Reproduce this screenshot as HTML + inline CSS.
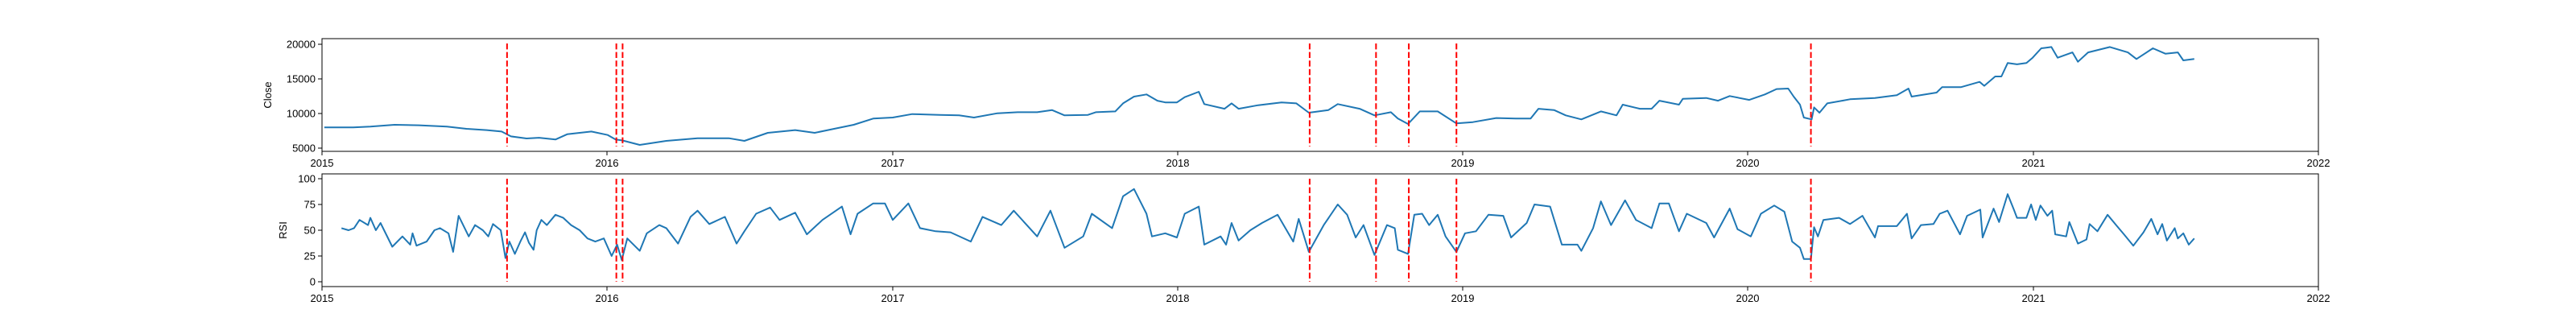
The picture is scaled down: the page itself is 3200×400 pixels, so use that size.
<!DOCTYPE html>
<html><head><meta charset="utf-8">
<style>
html,body{margin:0;padding:0;background:#fff;}
svg{display:block;font-family:"Liberation Sans","DejaVu Sans",sans-serif;}
</style></head>
<body>
<svg id="chart" width="3200" height="400" viewBox="0 0 3200 400" xmlns="http://www.w3.org/2000/svg"></svg>
<script>
// ---- data (days since 2015-01-01) ----
const closeDays = [3,40,62,93,124,160,185,211,230,242,262,278,299,314,345,366,376,385,407,441,481,521,541,571,606,631,656,681,706,731,756,791,816,835,865,891,916,935,951,981,991,1016,1026,1040,1056,1070,1080,1095,1105,1123,1130,1156,1165,1174,1199,1229,1248,1264,1289,1301,1329,1348,1369,1378,1391,1406,1429,1453,1474,1504,1529,1548,1558,1578,1593,1613,1638,1658,1666,1688,1703,1713,1738,1743,1773,1788,1803,1828,1848,1863,1878,1885,1893,1898,1908,1911,1918,1928,1947,1957,1989,2017,2032,2036,2068,2075,2099,2123,2129,2143,2151,2159,2171,2183,2191,2202,2215,2223,2242,2249,2262,2290,2313,2324,2345,2361,2377,2384,2398];
const closeValues = [7990,8000,8100,8370,8300,8100,7790,7600,7400,6700,6400,6500,6240,7000,7400,6900,6250,6100,5460,6050,6430,6430,6050,7210,7600,7210,7790,8370,9270,9420,9920,9800,9730,9420,10040,10190,10190,10500,9730,9800,10190,10300,11470,12440,12750,11850,11600,11600,12360,13140,11360,10690,11470,10690,11200,11600,11470,10120,10500,11360,10690,9730,10190,9270,8490,10300,10300,8570,8760,9350,9270,9270,10690,10500,9730,9150,10300,9730,11280,10690,10690,11850,11280,12130,12250,11850,12520,11970,12750,13530,13600,12440,11280,9420,9150,10880,10120,11470,11850,12060,12250,12640,13600,12440,13020,13800,13800,14570,14000,15350,15350,17290,17100,17290,18060,19420,19600,18060,18830,17480,18830,19600,18830,17870,19420,18640,18830,17680,17870];
const rsiDays = [25,34,41,48,59,62,69,75,90,103,113,116,121,134,144,151,162,168,175,188,196,206,213,219,229,235,240,247,254,260,265,271,275,281,288,299,309,319,330,340,350,361,371,378,384,391,407,416,432,441,456,472,481,496,516,531,541,556,574,586,606,621,641,666,677,686,706,721,731,751,766,786,805,831,846,870,886,916,933,951,975,986,1012,1026,1040,1056,1063,1080,1095,1105,1123,1130,1151,1158,1165,1174,1189,1204,1224,1244,1251,1264,1283,1301,1313,1324,1334,1348,1364,1374,1378,1391,1399,1409,1418,1429,1439,1453,1464,1478,1494,1513,1523,1543,1553,1573,1588,1608,1613,1628,1638,1651,1669,1683,1703,1713,1725,1738,1748,1773,1783,1803,1813,1830,1843,1860,1873,1883,1893,1898,1907,1911,1916,1923,1943,1957,1973,1989,1993,2017,2030,2036,2048,2064,2072,2082,2098,2107,2124,2127,2141,2148,2159,2167,2171,2183,2189,2195,2201,2210,2216,2220,2234,2238,2249,2260,2264,2274,2287,2299,2308,2320,2333,2343,2351,2357,2363,2373,2377,2384,2391,2398];
const rsiValues = [52,50,52,60,55,62,50,57,34,44,36,47,35,39,50,52,47,29,64,44,55,50,44,56,50,23,39,27,39,48,38,31,50,60,55,65,62,55,50,42,39,42,25,36,21,42,30,47,55,52,37,63,69,56,63,37,49,66,72,60,67,46,60,73,46,66,76,76,60,76,52,49,48,39,63,55,69,44,69,33,44,66,52,83,90,66,44,47,43,66,73,36,44,36,57,40,50,57,65,39,61,29,55,75,65,43,55,26,55,52,31,27,65,66,55,65,44,29,47,49,65,64,43,57,75,73,36,36,30,52,78,55,79,60,52,76,76,49,66,57,43,71,51,44,66,74,68,39,33,22,22,53,44,60,62,56,64,43,54,54,66,42,55,56,66,69,46,64,70,43,71,58,85,70,62,62,75,60,74,64,69,46,44,58,37,41,56,49,65,54,46,35,48,61,46,56,40,52,42,47,36,42];
const eventDays = [237,377,385,1265,1350,1392,1453,1907];
const yearTicks = ["2015","2016","2017","2018","2019","2020","2021","2022"];
const yearTickDays = [0,365,731,1096,1461,1826,2192,2557];
const closeTicks = [5000,10000,15000,20000];
const rsiTicks = [0,25,50,75,100];

const NS = "http://www.w3.org/2000/svg";
const svg = document.getElementById('chart');
const L = 400, R = 2880;
const top1 = 48, bot1 = 188, top2 = 216, bot2 = 356;
const xDay = d => L + (R - L) * d / 2557;
const yClose = v => 184 - (v - 5000) * (129 / 15000);
const yRsi = v => 350 - v * 1.28;

function mk(tag, attrs, parent) {
  const e = document.createElementNS(NS, tag);
  for (const k in attrs) e.setAttribute(k, attrs[k]);
  (parent || svg).appendChild(e);
  return e;
}

function drawPanel(name, topY, botY, yFn, ticks, label, labelX, days, vals) {
  const g = mk('g', {});
  
  
  // series line
  let d = '';
  for (let i = 0; i < days.length; i++) d += (i ? 'L' : 'M') + xDay(days[i]).toFixed(1) + ' ' + yFn(vals[i]).toFixed(1);
  const line = mk('path', {d: d, fill: 'none', stroke: '#1f77b4', 'stroke-width': 2, 'stroke-linejoin': 'round'}, g);
  
  
  // event lines
  const h = botY - topY;
  eventDays.forEach(ed => {
    const x = xDay(ed);
    const el = mk('line', {x1: x, x2: x, y1: topY + h * 0.043, y2: botY - h * 0.043, stroke: '#ff0000', 'stroke-width': 2, 'stroke-dasharray': '7.4,3.2'}, g);
    
    
  });
  // frame
  const fr = mk('rect', {x: L, y: topY, width: R - L, height: h, fill: 'none', stroke: '#000', 'stroke-width': 1}, g);
  
  
  // y ticks
  ticks.forEach(t => {
    const y = yFn(t);
    mk('line', {x1: L - 5, x2: L, y1: y, y2: y, stroke: '#000', 'stroke-width': 1}, g);
    const tx = mk('text', {x: L - 8, y: y + 4.5, 'font-size': 13, 'text-anchor': 'end', fill: '#000'}, g);
    tx.textContent = t;
    
    
  });
  // x ticks
  yearTicks.forEach((lab, i) => {
    const x = xDay(yearTickDays[i]);
    mk('line', {x1: x, x2: x, y1: botY, y2: botY + 5, stroke: '#000', 'stroke-width': 1}, g);
    const tx = mk('text', {x: x, y: botY + 19, 'font-size': 13, 'text-anchor': 'middle', fill: '#000'}, g);
    tx.textContent = lab;
    
    
  });
  // y label
  const cy = (topY + botY) / 2;
  const yl = mk('text', {x: labelX, y: cy, 'font-size': 13, 'text-anchor': 'middle', fill: '#000', transform: 'rotate(-90 ' + labelX + ' ' + cy + ')'}, g);
  yl.textContent = label;
  
  
}

drawPanel('close', top1, bot1, yClose, closeTicks, 'Close', 337, closeDays, closeValues);
drawPanel('rsi', top2, bot2, yRsi, rsiTicks, 'RSI', 356, rsiDays, rsiValues);
</script>
</body></html>
